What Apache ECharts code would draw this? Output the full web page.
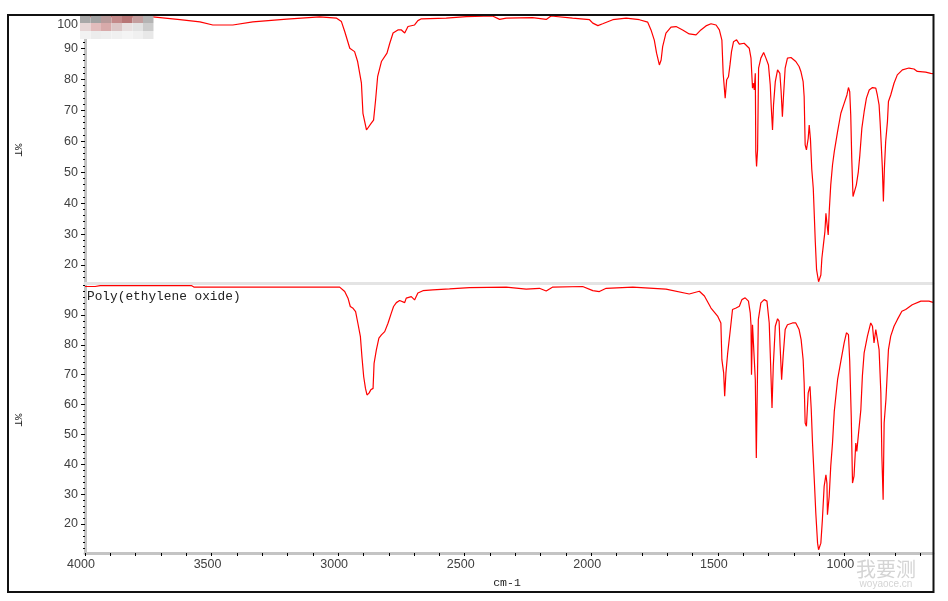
<!DOCTYPE html>
<html>
<head>
<meta charset="utf-8">
<title>Poly(ethylene oxide) IR</title>
<script src="https://cdn.jsdelivr.net/npm/echarts@6.0.0/dist/echarts.min.js"></script>
<style>
  html, body { margin: 0; padding: 0; background: #fff; }
  #chart { width: 948px; height: 601px; }
</style>
</head>
<body>
<div id="chart"></div>
<script>
// x range of both spectra (cm-1)
const wnMin = 650
const wnMax = 4000
const xLabelValues = [4000, 3500, 3000, 2500, 2000, 1500, 1000]
const topYLabels = [20, 30, 40, 50, 60, 70, 80, 90, 100]
const bottomYLabels = [20, 30, 40, 50, 60, 70, 80, 90]
const topYRange = [14.2, 100.4]
const bottomYRange = [10.3, 100]

// upper spectrum (sample)
const topWavenumber = [
  4000, 3900, 3800, 3732, 3625, 3546, 3495, 3416, 3337, 3203, 3073, 3006, 2987, 2974, 2954, 2935,
  2923, 2908, 2902, 2888, 2882, 2869, 2860, 2852, 2844, 2829, 2807, 2796, 2783, 2764, 2750, 2737,
  2724, 2698, 2685, 2671, 2573, 2494, 2390, 2362, 2336, 2232, 2178, 2159, 2074, 2007, 1994, 1974,
  1955, 1915, 1862, 1810, 1777, 1764, 1751, 1742, 1731, 1724, 1718, 1705, 1685, 1665, 1639, 1613,
  1586, 1567, 1547, 1527, 1507, 1494, 1484, 1479, 1471, 1465, 1458, 1452, 1446, 1438, 1426, 1415,
  1396, 1376, 1369, 1365, 1363, 1359, 1356, 1352, 1350, 1347, 1343, 1339, 1330, 1319, 1310, 1300,
  1293, 1289, 1284, 1280, 1273, 1264, 1255, 1250, 1245, 1241, 1234, 1225, 1211, 1192, 1179, 1172,
  1163, 1159, 1155, 1150, 1143, 1139, 1134, 1129, 1123, 1119, 1115, 1110, 1102, 1093, 1089, 1083,
  1077, 1073, 1069, 1064, 1060, 1054, 1047, 1040, 1027, 1014, 1001, 990, 984, 979, 975, 971,
  966, 959, 953, 945, 939, 931, 922, 913, 902, 889, 876, 870, 863, 859, 855, 850,
  846, 842, 837, 830, 826, 817, 804, 791, 771, 745, 725, 712, 679, 659, 650
]
const topTransmittance = [
  100.2, 100.2, 100.1, 100.1, 99.2, 98.5, 97.5, 97.5, 98.5, 99.4, 100.1, 99.7, 98.6, 95.4, 90.0, 88.9,
  85.7, 78.7, 69.0, 63.6, 63.1, 65.8, 66.8, 73.3, 80.8, 85.7, 88.4, 91.6, 94.9, 95.9, 95.9, 94.9,
  97.0, 97.5, 98.9, 99.5, 99.7, 100.2, 100.4, 99.3, 99.7, 99.9, 99.3, 100.4, 99.7, 99.2, 98.1, 97.3,
  97.9, 99.2, 99.7, 99.2, 98.4, 95.9, 92.6, 88.4, 84.6, 86.2, 90.5, 94.9, 96.8, 97.0, 95.9, 94.6,
  94.3, 95.9, 97.2, 97.9, 97.5, 95.9, 92.6, 81.9, 73.9, 79.8, 80.8, 84.6, 88.9, 92.1, 92.7, 91.3,
  91.6, 90.0, 86.8, 80.3, 77.1, 78.7, 76.5, 81.9, 56.6, 51.8, 57.2, 83.6, 86.8, 88.6, 86.8, 84.6,
  78.2, 71.1, 63.6, 71.7, 79.2, 83.0, 81.9, 76.0, 67.9, 73.9, 83.6, 86.8, 87.0, 85.7, 84.1, 82.5,
  79.2, 74.4, 58.8, 57.2, 60.9, 65.2, 60.4, 51.0, 44.8, 36.2, 27.5, 18.5, 14.6, 16.8, 22.2, 26.5,
  30.8, 36.7, 33.5, 29.7, 37.2, 45.8, 52.3, 56.6, 63.1, 69.0, 72.2, 74.9, 77.3, 76.0, 68.5, 54.5,
  42.1, 42.6, 45.8, 50.1, 55.5, 64.2, 69.5, 73.9, 76.5, 77.3, 77.1, 74.9, 71.7, 66.3, 59.8, 51.2,
  40.5, 51.2, 59.8, 66.3, 72.8, 74.9, 78.7, 81.4, 83.0, 83.6, 83.3, 82.5, 82.3, 81.9, 81.8
]

// lower spectrum (Poly(ethylene oxide) reference)
const bottomWavenumber = [
  4000, 3960, 3940, 3580, 3570, 3420, 3415, 3410, 3152, 2994, 2974, 2961, 2952, 2941, 2931, 2922,
  2912, 2906, 2899, 2892, 2886, 2878, 2871, 2862, 2858, 2849, 2839, 2829, 2816, 2803, 2790, 2781,
  2770, 2757, 2737, 2731, 2711, 2698, 2685, 2665, 2626, 2560, 2481, 2336, 2257, 2205, 2178, 2152,
  2034, 1994, 1968, 1941, 1836, 1705, 1613, 1573, 1553, 1527, 1501, 1488, 1484, 1477, 1473, 1468,
  1461, 1452, 1442, 1428, 1415, 1405, 1392, 1379, 1372, 1369, 1367, 1363, 1356, 1352, 1348, 1344,
  1340, 1330, 1317, 1306, 1297, 1293, 1286, 1281, 1273, 1264, 1258, 1254, 1248, 1242, 1234, 1225,
  1205, 1192, 1179, 1171, 1163, 1159, 1155, 1150, 1143, 1136, 1131, 1126, 1119, 1113, 1106, 1102,
  1100, 1093, 1087, 1080, 1073, 1069, 1067, 1060, 1054, 1047, 1040, 1027, 1014, 1001, 992, 984,
  979, 973, 968, 962, 955, 951, 944, 935, 929, 922, 909, 896, 889, 883, 876, 870,
  863, 856, 852, 847, 843, 836, 826, 817, 804, 791, 773, 758, 732, 698, 666, 650
]
const bottomTransmittance = [
  99.5, 99.5, 99.8, 99.8, 99.3, 99.3, 99.0, 99.3, 99.3, 99.3, 97.8, 95.6, 92.8, 92.2, 91.1, 87.2,
  82.7, 76.0, 69.3, 65.4, 63.2, 63.8, 64.9, 65.4, 73.8, 78.3, 82.2, 83.3, 84.4, 87.2, 90.6, 92.8,
  94.1, 94.8, 94.1, 95.6, 96.1, 95.0, 97.3, 98.1, 98.4, 98.7, 99.1, 99.3, 98.6, 98.9, 98.0, 99.3,
  99.5, 98.1, 97.8, 98.9, 99.3, 98.6, 97.0, 97.9, 96.3, 92.3, 89.6, 87.3, 75.0, 70.6, 62.8, 70.6,
  77.3, 84.0, 91.8, 92.3, 92.9, 95.1, 95.7, 94.6, 90.7, 86.7, 70.0, 86.7, 87.3, 68.3, 42.1, 66.1,
  88.4, 94.0, 95.1, 94.6, 87.3, 77.3, 58.8, 72.8, 86.2, 88.7, 87.9, 79.5, 68.3, 76.2, 85.1, 86.7,
  87.3, 87.3, 85.1, 81.7, 75.0, 67.2, 53.8, 52.7, 63.9, 66.1, 58.3, 47.1, 34.8, 23.7, 13.6, 11.4,
  11.4, 13.6, 21.4, 32.6, 36.5, 33.7, 23.1, 29.3, 39.3, 47.1, 57.7, 68.3, 74.5, 80.6, 84.0, 83.4,
  74.5, 56.1, 33.7, 36.0, 47.1, 44.3, 50.5, 58.3, 69.5, 77.3, 82.9, 87.3, 86.2, 80.6, 85.1, 85.6,
  78.4, 63.9, 42.7, 28.1, 53.8, 61.6, 78.4, 82.9, 86.2, 88.4, 91.2, 91.8, 93.4, 94.6, 94.6, 94.2
]

const toPairs = (xs, ys) => xs.map((x, i) => [x, ys[i]])

// tick positions every 100 cm-1 and every 2 %T
const xMinorTicks = []
for (let v = 700; v <= 4000; v += 100) xMinorTicks.push(v)
const topMinor = []
for (let v = 16; v <= 100; v += 2) topMinor.push(v)
const bottomMinor = []
for (let v = 12; v <= 100; v += 2) bottomMinor.push(v)

const labelFont = { color: '#404040', fontSize: 12.5, fontFamily: 'Liberation Sans, Arial, sans-serif' }
const grayLine = { color: '#c4c4c4', width: 3 }

function xAxisFor(gridIndex, bottom) {
  return {
    type: 'value', gridIndex, min: wnMin, max: wnMax, inverse: true,
    axisLine: { show: true, lineStyle: bottom ? grayLine : { color: '#e4e4e4', width: 3 } },
    axisTick: { show: bottom, length: 3, customValues: xMinorTicks, lineStyle: { color: '#000' } },
    axisLabel: {
      show: bottom, customValues: xLabelValues, margin: 5, padding: [0, 8, 0, 0], ...labelFont,
      formatter: v => String(v),
    },
    splitLine: { show: false },
  }
}

function yAxisPair(gridIndex, range, labels, minor) {
  return [
    {
      type: 'value', gridIndex, min: range[0], max: range[1],
      axisLine: { show: true, lineStyle: grayLine },
      axisTick: { show: true, length: 4, customValues: labels, lineStyle: { color: '#000' } },
      axisLabel: {
        customValues: labels, margin: 7, ...labelFont,
        formatter: v => (v === 100 ? '{low|100}' : String(v)),
        rich: { low: { padding: [14, 0, 0, 0], ...labelFont } },
      },
      splitLine: { show: false },
    },
    {
      type: 'value', gridIndex, min: range[0], max: range[1], position: 'left',
      axisLine: { show: false },
      axisTick: { show: true, length: 2, customValues: minor, lineStyle: { color: '#000' } },
      axisLabel: { show: false },
      splitLine: { show: false },
    },
  ]
}

const chart = echarts.init(document.getElementById('chart'))

// blurred label patch in the top-left corner
const blurColors = [
  ['#a8a8a8', '#a2a2a2', '#b89a9a', '#c48a8a', '#b87676', '#c49e9e', '#b4b4b4'],
  ['#e6d6d6', '#e2bcbc', '#d8aaaa', '#dcc6c6', '#e8e0e0', '#e2e2e2', '#cccccc'],
  ['#f2f2f2', '#ececec', '#eeeeee', '#f0f0f0', '#f4f4f4', '#f0f0f0', '#e8e8e8'],
]
const blurRects = []
blurColors.forEach((row, r) => row.forEach((c, k) => {
  blurRects.push({
    type: 'rect', z: 20,
    shape: { x: 80 + k * 10.5, y: 15 + r * 8, width: 10.5, height: 8 },
    style: { fill: c },
  })
}))

const option = {
  animation: false,
  backgroundColor: '#fff',
  grid: [
    { left: 85, top: 16, width: 848, height: 267 },
    { left: 85, top: 285, width: 848, height: 268 },
  ],
  xAxis: [xAxisFor(0, false), xAxisFor(1, true)],
  yAxis: [
    ...yAxisPair(0, topYRange, topYLabels, topMinor),
    ...yAxisPair(1, bottomYRange, bottomYLabels, bottomMinor),
  ],
  series: [
    {
      type: 'line', xAxisIndex: 0, yAxisIndex: 0, showSymbol: false,
      lineStyle: { color: '#ff0000', width: 1.2 },
      data: toPairs(topWavenumber, topTransmittance),
    },
    {
      type: 'line', xAxisIndex: 1, yAxisIndex: 2, showSymbol: false,
      lineStyle: { color: '#ff0000', width: 1.2 },
      data: toPairs(bottomWavenumber, bottomTransmittance),
    },
  ],
  graphic: [
    {
      type: 'rect', z: 30, silent: true,
      shape: { x: 8, y: 15, width: 925.5, height: 577 },
      style: { fill: null, stroke: '#111', lineWidth: 2 },
    },
    ...blurRects,
    {
      type: 'text', x: 18, y: 150, rotation: -Math.PI / 2,
      style: { text: '%T', fill: '#222', font: '11px Liberation Mono, monospace', align: 'center', verticalAlign: 'middle' },
    },
    {
      type: 'text', x: 18, y: 420, rotation: -Math.PI / 2,
      style: { text: '%T', fill: '#222', font: '11px Liberation Mono, monospace', align: 'center', verticalAlign: 'middle' },
    },
    {
      type: 'text', x: 507, y: 583,
      style: { text: 'cm-1', fill: '#222', font: '11.5px Liberation Mono, monospace', align: 'center', verticalAlign: 'middle' },
    },
    {
      type: 'text', x: 87, y: 297,
      style: { text: 'Poly(ethylene oxide)', fill: '#222', font: '12.8px Liberation Mono, monospace', align: 'left', verticalAlign: 'middle' },
    },
    {
      type: 'text', x: 886, y: 569, z: 40,
      style: { text: '我要测', fill: '#d4d4d4', font: '20px Noto Sans CJK SC', align: 'center', verticalAlign: 'middle', stroke: '#fff', lineWidth: 1 },
    },
    {
      type: 'text', x: 886, y: 584, z: 40,
      style: { text: 'woyaoce.cn', fill: '#d4d4d4', font: '10px Liberation Sans', align: 'center', verticalAlign: 'middle' },
    },
  ],
}

chart.setOption(option)
</script>
</body>
</html>
